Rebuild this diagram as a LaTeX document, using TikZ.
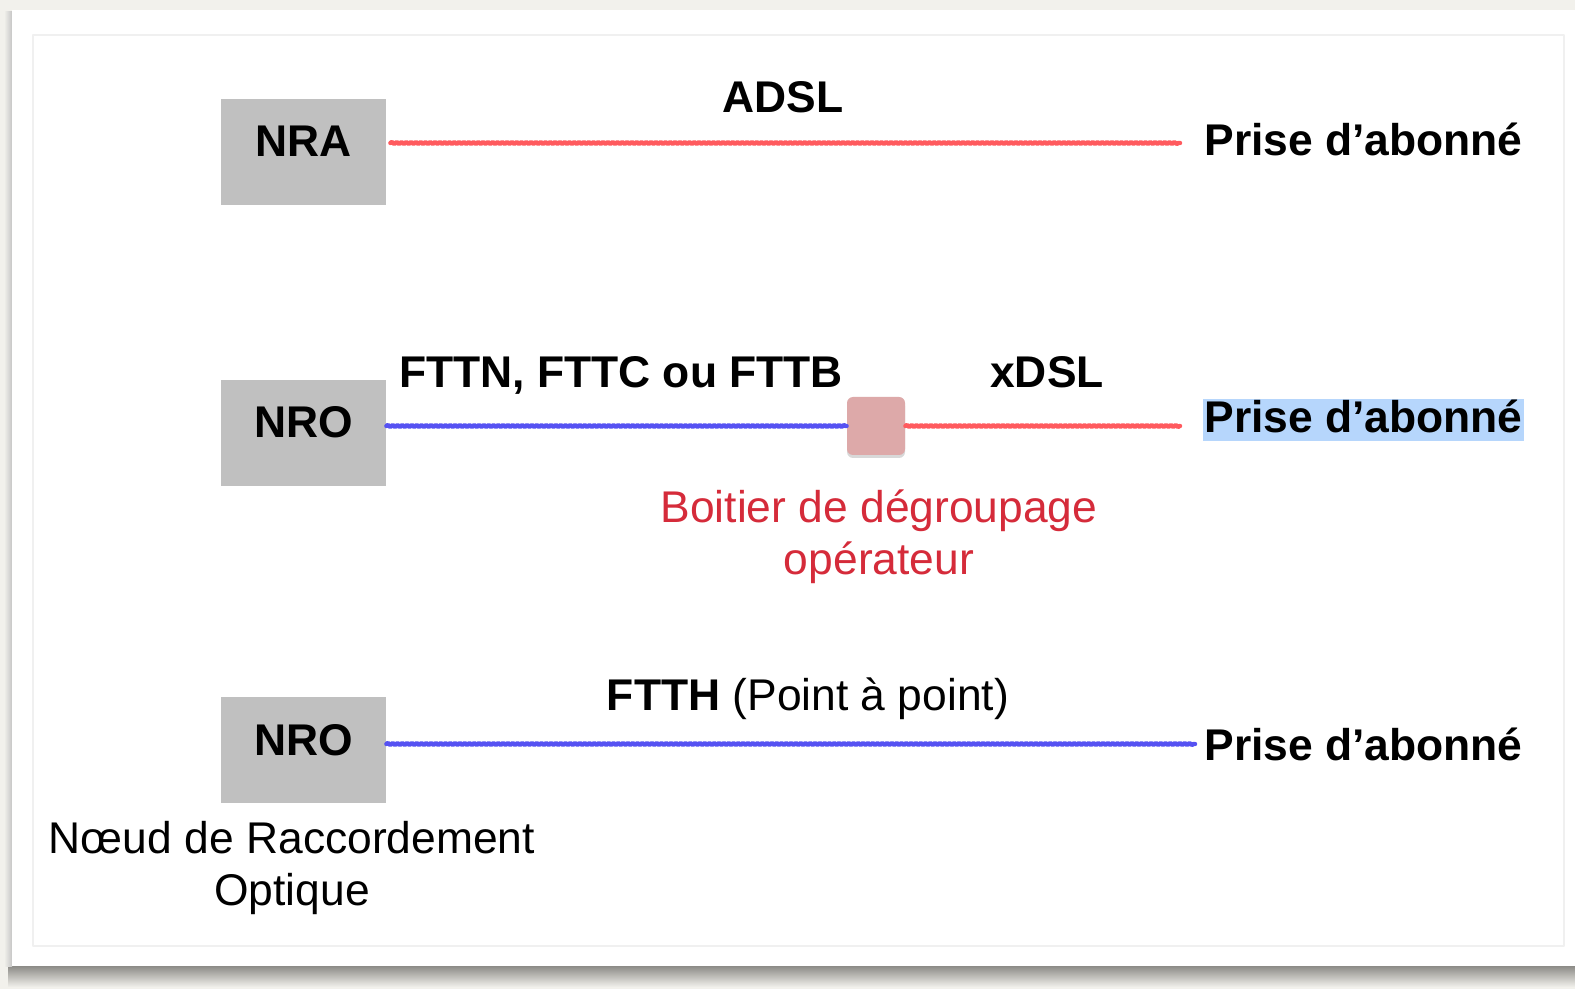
\documentclass[tikz,border=0pt]{standalone}
\usepackage{fontspec}
\setmainfont{Liberation Sans}
\usetikzlibrary{decorations.pathmorphing,shadows}
\definecolor{fond}{HTML}{F2F1EC}
\definecolor{gris}{HTML}{C0C0C0}
\definecolor{ligneR}{HTML}{FF5A5E}
\definecolor{ligneB}{HTML}{5652F2}
\definecolor{rose}{HTML}{DDA9A9}
\definecolor{texteR}{HTML}{D52B3A}
\definecolor{surligne}{HTML}{B6D6FC}
\definecolor{ombre}{HTML}{8C8B87}
\begin{document}
\begin{tikzpicture}[x=0.5pt,y=-0.5pt, font=\fontsize{22.2}{26}\selectfont, line join=round, line cap=round,
	boite/.style={fill=gris, minimum width=82.5pt, minimum height=53pt, inner sep=0pt, text height=16pt, text depth=11pt, font=\fontsize{22.2}{26}\selectfont\bfseries},
	fil/.style={line width=2.2pt, decorate, decoration={snake, amplitude=0.5pt, segment length=2.4pt}},
	rouge/.style={fil, draw=ligneR}, bleu/.style={fil, draw=ligneB},
	titre/.style={font=\fontsize{22.2}{26}\selectfont\bfseries, anchor=base, inner sep=0pt},
	prise/.style={titre, anchor=base west, inner sep=0.5pt, text height=16.5pt, text depth=3.5pt}]
	% fond et carte
	\fill[fond] (0,0) rectangle (1575,989);
	\shade[top color=ombre, bottom color=fond] (8,966) rectangle (1575,987);
	\shade[left color=fond, right color=gray!45] (4,12) rectangle (12,966);
	\fill[white] (12,10) rectangle (1575,966);
	\draw[gray!12, line width=0.6pt] (33,35) rectangle (1564,946);
	% noeuds
	\node[boite] (nra) at (303.5,152) {NRA};
	\node[boite] (nro1) at (303.5,433) {NRO};
	\node[boite] (nro2) at (303.5,750) {NRO};
	\node[prise] (prise1) at (1203,156) {Prise d’abonné};
	\node[prise, fill=surligne] (prise2) at (1203,433) {Prise d’abonné};
	\node[prise] (prise3) at (1203,760) {Prise d’abonné};
	\node[fill=rose, minimum size=29pt, inner sep=0pt, rounded corners=3pt,
		drop shadow={opacity=0.3, shadow xshift=0pt, shadow yshift=-1.5pt}] (boitier) at (876,426) {};
	\coordinate (fin1) at (1180,143);
	\coordinate (fin2) at (1180,426);
	\coordinate (fin3) at (1195,744);
	% lignes
	\draw[rouge] ([xshift=2pt]nra.east |- fin1) -- (fin1);
	\draw[bleu] (nro1.east |- boitier.west) -- (boitier.west);
	\draw[rouge] (boitier.east) -- (fin2);
	\draw[bleu] (nro2.east |- fin3) -- (fin3);
	% textes
	\node[titre] (adsl) at (783,113) {ADSL};
	\node[titre] (fttx) at (621,388) {FTTN, FTTC ou FTTB};
	\node[titre] (xdsl) at (1047,388) {xDSL};
	\node[anchor=base, inner sep=0pt] (ftth) at (808,710) {\textbf{FTTH} (Point à point)};
	\node[align=center, text=texteR, inner sep=0pt] (degroup) at (879,537) {Boitier de dégroupage\\opérateur};
	\node[align=center, inner sep=0pt] (legende) at (292,868) {Nœud de Raccordement\\Optique};
\end{tikzpicture}
\end{document}
